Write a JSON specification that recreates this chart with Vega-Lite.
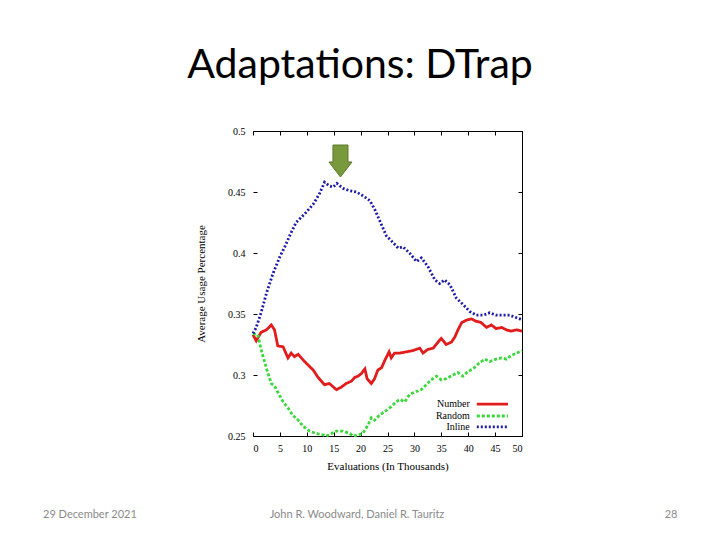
{
  "$schema": "https://vega.github.io/schema/vega-lite/v6.json",
  "width": 269,
  "height": 305,
  "autosize": "none",
  "padding": {"left": 253, "top": 131, "right": 198, "bottom": 104},
  "background": "white",
  "title": {"text": "Adaptations: DTrap", "font": "Lato", "fontSize": 41, "fontWeight": "normal", "color": "black", "anchor": "middle", "dx": -27.5, "offset": 7, "baseline": "alphabetic"},
  "config": {
    "view": {"stroke": null},
    "axis": {"labelFont": "Liberation Serif", "titleFont": "Liberation Serif", "labelFontSize": 10, "titleFontSize": 11, "titleFontWeight": "normal", "labelColor": "black", "titleColor": "black", "domainColor": "black", "tickColor": "black", "grid": false, "domainWidth": 1, "tickWidth": 1}
  },
  "datasets": {
    "series": [
      {"series": "Number", "eval": 0, "value": 0.333}, {"series": "Number", "eval": 0.6, "value": 0.328}, {"series": "Number", "eval": 1.5, "value": 0.335}, {"series": "Number", "eval": 2.5, "value": 0.337}, {"series": "Number", "eval": 3.4, "value": 0.341}, {"series": "Number", "eval": 4, "value": 0.337}, {"series": "Number", "eval": 4.6, "value": 0.324}, {"series": "Number", "eval": 5.6, "value": 0.323}, {"series": "Number", "eval": 6.5, "value": 0.314}, {"series": "Number", "eval": 7.1, "value": 0.318}, {"series": "Number", "eval": 7.7, "value": 0.315}, {"series": "Number", "eval": 8.4, "value": 0.317}, {"series": "Number", "eval": 9.6, "value": 0.311}, {"series": "Number", "eval": 11.2, "value": 0.304}, {"series": "Number", "eval": 12.1, "value": 0.298}, {"series": "Number", "eval": 13.3, "value": 0.292}, {"series": "Number", "eval": 14.2, "value": 0.293}, {"series": "Number", "eval": 15.5, "value": 0.288}, {"series": "Number", "eval": 16.4, "value": 0.29}, {"series": "Number", "eval": 17.3, "value": 0.293}, {"series": "Number", "eval": 18.3, "value": 0.295}, {"series": "Number", "eval": 18.9, "value": 0.298}, {"series": "Number", "eval": 19.5, "value": 0.299}, {"series": "Number", "eval": 20.1, "value": 0.301}, {"series": "Number", "eval": 20.8, "value": 0.305}, {"series": "Number", "eval": 21.2, "value": 0.297}, {"series": "Number", "eval": 22, "value": 0.293}, {"series": "Number", "eval": 22.6, "value": 0.297}, {"series": "Number", "eval": 23.2, "value": 0.304}, {"series": "Number", "eval": 23.9, "value": 0.306}, {"series": "Number", "eval": 24.5, "value": 0.312}, {"series": "Number", "eval": 25.3, "value": 0.319}, {"series": "Number", "eval": 25.7, "value": 0.314}, {"series": "Number", "eval": 26.3, "value": 0.318}, {"series": "Number", "eval": 27.3, "value": 0.318}, {"series": "Number", "eval": 28.5, "value": 0.319}, {"series": "Number", "eval": 29.7, "value": 0.32}, {"series": "Number", "eval": 31, "value": 0.322}, {"series": "Number", "eval": 31.6, "value": 0.318}, {"series": "Number", "eval": 32.5, "value": 0.321}, {"series": "Number", "eval": 33.5, "value": 0.322}, {"series": "Number", "eval": 34.4, "value": 0.327}, {"series": "Number", "eval": 35, "value": 0.33}, {"series": "Number", "eval": 35.9, "value": 0.325}, {"series": "Number", "eval": 36.9, "value": 0.327}, {"series": "Number", "eval": 37.5, "value": 0.331}, {"series": "Number", "eval": 38.1, "value": 0.337}, {"series": "Number", "eval": 38.8, "value": 0.343}, {"series": "Number", "eval": 39.7, "value": 0.345}, {"series": "Number", "eval": 40.6, "value": 0.346}, {"series": "Number", "eval": 41.5, "value": 0.344}, {"series": "Number", "eval": 42.4, "value": 0.343}, {"series": "Number", "eval": 43.4, "value": 0.339}, {"series": "Number", "eval": 44.3, "value": 0.341}, {"series": "Number", "eval": 45.2, "value": 0.338}, {"series": "Number", "eval": 46.2, "value": 0.339}, {"series": "Number", "eval": 47.1, "value": 0.337}, {"series": "Number", "eval": 48, "value": 0.336}, {"series": "Number", "eval": 49, "value": 0.337}, {"series": "Number", "eval": 50, "value": 0.336},
      {"series": "Random", "eval": 0, "value": 0.334}, {"series": "Random", "eval": 0.9, "value": 0.333}, {"series": "Random", "eval": 1.5, "value": 0.321}, {"series": "Random", "eval": 2.2, "value": 0.31}, {"series": "Random", "eval": 2.8, "value": 0.301}, {"series": "Random", "eval": 3.4, "value": 0.293}, {"series": "Random", "eval": 4, "value": 0.291}, {"series": "Random", "eval": 4.6, "value": 0.286}, {"series": "Random", "eval": 5.6, "value": 0.278}, {"series": "Random", "eval": 6.5, "value": 0.273}, {"series": "Random", "eval": 7.4, "value": 0.267}, {"series": "Random", "eval": 8.4, "value": 0.263}, {"series": "Random", "eval": 9.3, "value": 0.258}, {"series": "Random", "eval": 10.5, "value": 0.254}, {"series": "Random", "eval": 11.8, "value": 0.252}, {"series": "Random", "eval": 13, "value": 0.251}, {"series": "Random", "eval": 13.6, "value": 0.25}, {"series": "Random", "eval": 14.6, "value": 0.252}, {"series": "Random", "eval": 15.5, "value": 0.254}, {"series": "Random", "eval": 16.7, "value": 0.254}, {"series": "Random", "eval": 18, "value": 0.252}, {"series": "Random", "eval": 18.6, "value": 0.25}, {"series": "Random", "eval": 19.5, "value": 0.251}, {"series": "Random", "eval": 20.4, "value": 0.252}, {"series": "Random", "eval": 21.4, "value": 0.259}, {"series": "Random", "eval": 22, "value": 0.265}, {"series": "Random", "eval": 22.6, "value": 0.263}, {"series": "Random", "eval": 23.5, "value": 0.267}, {"series": "Random", "eval": 24.8, "value": 0.271}, {"series": "Random", "eval": 25.7, "value": 0.274}, {"series": "Random", "eval": 26.6, "value": 0.278}, {"series": "Random", "eval": 27.3, "value": 0.28}, {"series": "Random", "eval": 28.2, "value": 0.278}, {"series": "Random", "eval": 29.1, "value": 0.284}, {"series": "Random", "eval": 30.1, "value": 0.286}, {"series": "Random", "eval": 31.3, "value": 0.288}, {"series": "Random", "eval": 32.2, "value": 0.292}, {"series": "Random", "eval": 33.1, "value": 0.296}, {"series": "Random", "eval": 34.1, "value": 0.299}, {"series": "Random", "eval": 35, "value": 0.296}, {"series": "Random", "eval": 35.9, "value": 0.297}, {"series": "Random", "eval": 37.2, "value": 0.3}, {"series": "Random", "eval": 38.1, "value": 0.302}, {"series": "Random", "eval": 39, "value": 0.299}, {"series": "Random", "eval": 40, "value": 0.303}, {"series": "Random", "eval": 40.9, "value": 0.305}, {"series": "Random", "eval": 42.1, "value": 0.31}, {"series": "Random", "eval": 43.1, "value": 0.313}, {"series": "Random", "eval": 44, "value": 0.311}, {"series": "Random", "eval": 45.2, "value": 0.313}, {"series": "Random", "eval": 46.2, "value": 0.314}, {"series": "Random", "eval": 47.1, "value": 0.313}, {"series": "Random", "eval": 48, "value": 0.316}, {"series": "Random", "eval": 49, "value": 0.318}, {"series": "Random", "eval": 50, "value": 0.32},
      {"series": "Inline", "eval": 0, "value": 0.334}, {"series": "Inline", "eval": 0.6, "value": 0.339}, {"series": "Inline", "eval": 1.5, "value": 0.351}, {"series": "Inline", "eval": 2.5, "value": 0.367}, {"series": "Inline", "eval": 3.7, "value": 0.383}, {"series": "Inline", "eval": 5, "value": 0.397}, {"series": "Inline", "eval": 5.9, "value": 0.405}, {"series": "Inline", "eval": 6.8, "value": 0.414}, {"series": "Inline", "eval": 8, "value": 0.425}, {"series": "Inline", "eval": 9.6, "value": 0.432}, {"series": "Inline", "eval": 11.2, "value": 0.44}, {"series": "Inline", "eval": 12.4, "value": 0.449}, {"series": "Inline", "eval": 13.3, "value": 0.458}, {"series": "Inline", "eval": 14.2, "value": 0.455}, {"series": "Inline", "eval": 14.9, "value": 0.454}, {"series": "Inline", "eval": 15.6, "value": 0.457}, {"series": "Inline", "eval": 16.7, "value": 0.453}, {"series": "Inline", "eval": 18, "value": 0.451}, {"series": "Inline", "eval": 19.2, "value": 0.45}, {"series": "Inline", "eval": 20.4, "value": 0.447}, {"series": "Inline", "eval": 21.7, "value": 0.443}, {"series": "Inline", "eval": 22.6, "value": 0.436}, {"series": "Inline", "eval": 23.5, "value": 0.427}, {"series": "Inline", "eval": 24.8, "value": 0.414}, {"series": "Inline", "eval": 25.7, "value": 0.41}, {"series": "Inline", "eval": 27, "value": 0.404}, {"series": "Inline", "eval": 27.9, "value": 0.405}, {"series": "Inline", "eval": 29.1, "value": 0.4}, {"series": "Inline", "eval": 30.4, "value": 0.393}, {"series": "Inline", "eval": 31.3, "value": 0.396}, {"series": "Inline", "eval": 32.5, "value": 0.389}, {"series": "Inline", "eval": 33.8, "value": 0.378}, {"series": "Inline", "eval": 34.7, "value": 0.375}, {"series": "Inline", "eval": 35.6, "value": 0.378}, {"series": "Inline", "eval": 36.6, "value": 0.374}, {"series": "Inline", "eval": 37.8, "value": 0.363}, {"series": "Inline", "eval": 39, "value": 0.358}, {"series": "Inline", "eval": 40.3, "value": 0.352}, {"series": "Inline", "eval": 41.5, "value": 0.349}, {"series": "Inline", "eval": 42.8, "value": 0.349}, {"series": "Inline", "eval": 44, "value": 0.351}, {"series": "Inline", "eval": 45.2, "value": 0.349}, {"series": "Inline", "eval": 46.5, "value": 0.349}, {"series": "Inline", "eval": 47.7, "value": 0.349}, {"series": "Inline", "eval": 49.6, "value": 0.346}, {"series": "Inline", "eval": 50, "value": 0.345}
    ],
    "one": [{}]
  },
  "resolve": {"axis": {"x": "independent", "y": "independent"}},
  "layer": [
    {
      "data": {"name": "series"},
      "mark": {"type": "line", "strokeWidth": 2.8},
      "encoding": {
        "x": {"field": "eval", "type": "quantitative", "scale": {"domain": [0, 50], "nice": false, "zero": false},
              "axis": {"orient": "bottom", "values": [0, 5, 10, 15, 20, 25, 30, 35, 40, 45, 50], "tickSize": -4, "labelPadding": 11, "title": "Evaluations (In Thousands)", "titlePadding": 7}},
        "y": {"field": "value", "type": "quantitative", "scale": {"domain": [0.25, 0.5], "nice": false, "zero": false},
              "axis": {"orient": "left", "values": [0.25, 0.3, 0.35, 0.4, 0.45, 0.5], "format": "~g", "tickSize": -4, "domain": false, "labelPadding": 12, "title": "Average Usage Percentage", "titlePadding": 21}},
        "color": {"field": "series", "type": "nominal", "scale": {"domain": ["Number", "Random", "Inline"], "range": ["#e01c1c", "#3ad83a", "#1c1ca6"]}, "legend": null},
        "strokeDash": {"field": "series", "type": "nominal", "scale": {"domain": ["Number", "Random", "Inline"], "range": [[1, 0], [3, 2], [2, 2]]}, "legend": null}
      }
    },
    {
      "data": {"name": "one"},
      "mark": {"type": "point", "shape": "M-0.47,-1L0.47,-1L0.47,0.06L0.72,0.06L0,1L-0.72,0.06L-0.47,0.06Z", "size": 1024, "filled": true, "fill": "#789a3c", "stroke": "#5b7a2a", "strokeWidth": 1, "opacity": 1},
      "encoding": {
        "x": {"datum": 16.26, "type": "quantitative", "scale": {"domain": [0, 50], "nice": false, "zero": false},
              "axis": {"orient": "top", "values": [0, 5, 10, 15, 20, 25, 30, 35, 40, 45, 50], "tickSize": -4, "labels": false, "title": null}},
        "y": {"datum": 0.4754, "type": "quantitative", "scale": {"domain": [0.25, 0.5], "nice": false, "zero": false},
              "axis": {"orient": "right", "values": [0.25, 0.3, 0.35, 0.4, 0.45, 0.5], "tickSize": -4, "labels": false, "title": null}}
      }
    },
    {
      "data": {"name": "one"},
      "mark": {"type": "text", "align": "right", "baseline": "middle", "font": "Liberation Serif", "fontSize": 10, "color": "black"},
      "encoding": {
        "x": {"datum": 40.3, "type": "quantitative", "scale": {"domain": [0, 50], "nice": false, "zero": false}, "axis": null},
        "y": {"datum": 0.2762, "type": "quantitative", "scale": {"domain": [0.25, 0.5], "nice": false, "zero": false}, "axis": null},
        "text": {"value": "Number"}
      }
    },
    {
      "data": {"name": "one"},
      "mark": {"type": "text", "align": "right", "baseline": "middle", "font": "Liberation Serif", "fontSize": 10, "color": "black"},
      "encoding": {
        "x": {"datum": 40.3, "type": "quantitative", "scale": {"domain": [0, 50], "nice": false, "zero": false}, "axis": null},
        "y": {"datum": 0.2664, "type": "quantitative", "scale": {"domain": [0.25, 0.5], "nice": false, "zero": false}, "axis": null},
        "text": {"value": "Random"}
      }
    },
    {
      "data": {"name": "one"},
      "mark": {"type": "text", "align": "right", "baseline": "middle", "font": "Liberation Serif", "fontSize": 10, "color": "black"},
      "encoding": {
        "x": {"datum": 40.3, "type": "quantitative", "scale": {"domain": [0, 50], "nice": false, "zero": false}, "axis": null},
        "y": {"datum": 0.2574, "type": "quantitative", "scale": {"domain": [0.25, 0.5], "nice": false, "zero": false}, "axis": null},
        "text": {"value": "Inline"}
      }
    },
    {
      "data": {"name": "one"},
      "mark": {"type": "rule", "strokeWidth": 2.8, "color": "#e01c1c"},
      "encoding": {
        "x": {"datum": 41.6, "type": "quantitative", "scale": {"domain": [0, 50], "nice": false, "zero": false}, "axis": null},
        "x2": {"datum": 47.4},
        "y": {"datum": 0.2762, "type": "quantitative", "scale": {"domain": [0.25, 0.5], "nice": false, "zero": false}, "axis": null}
      }
    },
    {
      "data": {"name": "one"},
      "mark": {"type": "rule", "strokeWidth": 2.8, "color": "#3ad83a", "strokeDash": [3, 2]},
      "encoding": {
        "x": {"datum": 41.6, "type": "quantitative", "scale": {"domain": [0, 50], "nice": false, "zero": false}, "axis": null},
        "x2": {"datum": 47.4},
        "y": {"datum": 0.2664, "type": "quantitative", "scale": {"domain": [0.25, 0.5], "nice": false, "zero": false}, "axis": null}
      }
    },
    {
      "data": {"name": "one"},
      "mark": {"type": "rule", "strokeWidth": 2.8, "color": "#1c1ca6", "strokeDash": [2, 2]},
      "encoding": {
        "x": {"datum": 41.6, "type": "quantitative", "scale": {"domain": [0, 50], "nice": false, "zero": false}, "axis": null},
        "x2": {"datum": 47.4},
        "y": {"datum": 0.2574, "type": "quantitative", "scale": {"domain": [0.25, 0.5], "nice": false, "zero": false}, "axis": null}
      }
    },
    {
      "data": {"name": "one"},
      "mark": {"type": "text", "align": "left", "baseline": "middle", "font": "Lato", "fontSize": 11, "color": "#8a8a8a"},
      "encoding": {
        "x": {"datum": -39.03, "type": "quantitative", "scale": {"domain": [0, 50], "nice": false, "zero": false}, "axis": null},
        "y": {"datum": 0.1852, "type": "quantitative", "scale": {"domain": [0.25, 0.5], "nice": false, "zero": false}, "axis": null},
        "text": {"value": "29 December 2021"}
      }
    },
    {
      "data": {"name": "one"},
      "mark": {"type": "text", "align": "center", "baseline": "middle", "font": "Lato", "fontSize": 11, "color": "#8a8a8a"},
      "encoding": {
        "x": {"datum": 19.33, "type": "quantitative", "scale": {"domain": [0, 50], "nice": false, "zero": false}, "axis": null},
        "y": {"datum": 0.1852, "type": "quantitative", "scale": {"domain": [0.25, 0.5], "nice": false, "zero": false}, "axis": null},
        "text": {"value": "John R. Woodward, Daniel R. Tauritz"}
      }
    },
    {
      "data": {"name": "one"},
      "mark": {"type": "text", "align": "center", "baseline": "middle", "font": "Lato", "fontSize": 11, "color": "#8a8a8a"},
      "encoding": {
        "x": {"datum": 77.7, "type": "quantitative", "scale": {"domain": [0, 50], "nice": false, "zero": false}, "axis": null},
        "y": {"datum": 0.1852, "type": "quantitative", "scale": {"domain": [0.25, 0.5], "nice": false, "zero": false}, "axis": null},
        "text": {"value": "28"}
      }
    }
  ]
}
